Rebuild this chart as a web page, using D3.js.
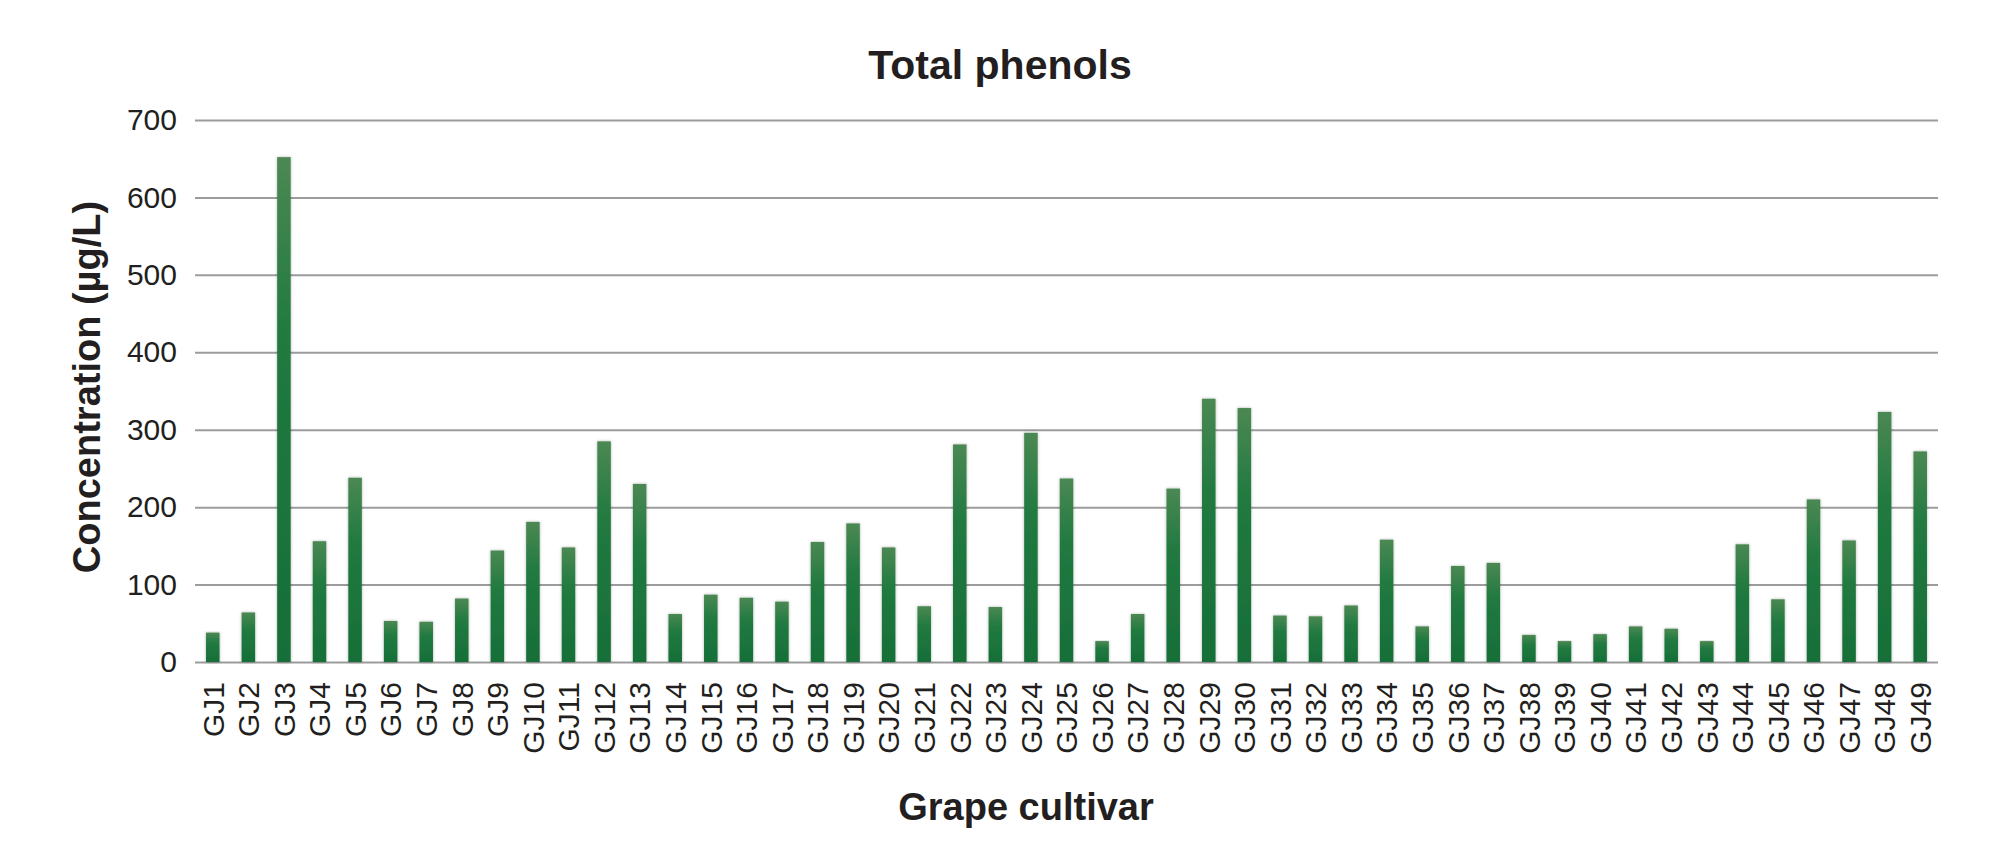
<!DOCTYPE html>
<html lang="en">
<head>
  <meta charset="UTF-8">
  <title>Total phenols</title>
  <style>
    body { margin: 0; padding: 0; background: #fff; }
    svg { display: block; }
    text { font-family: "Liberation Sans", Arial, sans-serif; fill: #231f20; }
    .grid line { stroke: #9c9c9c; stroke-width: 2; }
    .tick text { font-size: 30px; }
  </style>
</head>
<body>
  <svg id="chart" width="2000" height="868"></svg>

  <script src="https://d3js.org/d3.v7.min.js"></script>
  <script>
  (function(){
    const cultivars = ["GJ1","GJ2","GJ3","GJ4","GJ5","GJ6","GJ7","GJ8","GJ9","GJ10",
                       "GJ11","GJ12","GJ13","GJ14","GJ15","GJ16","GJ17","GJ18","GJ19","GJ20",
                       "GJ21","GJ22","GJ23","GJ24","GJ25","GJ26","GJ27","GJ28","GJ29","GJ30",
                       "GJ31","GJ32","GJ33","GJ34","GJ35","GJ36","GJ37","GJ38","GJ39","GJ40",
                       "GJ41","GJ42","GJ43","GJ44","GJ45","GJ46","GJ47","GJ48","GJ49"];

    // total phenols, µg/L
    const phenols = [38, 64, 652, 156, 238, 53, 52, 82, 144, 181,
                     148, 285, 230, 62, 87, 83, 78, 155, 179, 148,
                     72, 281, 71, 296, 237, 27, 62, 224, 340, 328,
                     60, 59, 73, 158, 46, 124, 128, 35, 27, 36,
                     46, 43, 27, 152, 81, 210, 157, 323, 272];

    const yTicks = [0, 100, 200, 300, 400, 500, 600, 700];

    const svg = d3.select("#chart"),
          left = 195, right = 1938, top = 120, bottom = 662;

    const data = cultivars.map((c, i) => ({ name: c, value: phenols[i] }));

    const x = d3.scaleBand()
      .domain(cultivars)
      .range([left, right])
      .paddingInner(0.62)
      .paddingOuter(0.31);

    const y = d3.scaleLinear()
      .domain([0, 700])
      .range([bottom, top]);

    // gradient + soft shadow for the bars
    const defs = svg.append("defs");
    const grad = defs.append("linearGradient")
      .attr("id", "barGrad")
      .attr("x1", 0).attr("y1", 0).attr("x2", 0).attr("y2", 1);
    grad.append("stop").attr("offset", "0%").attr("stop-color", "#4b8853");
    grad.append("stop").attr("offset", "35%").attr("stop-color", "#217a40");
    grad.append("stop").attr("offset", "100%").attr("stop-color", "#166e38");

    defs.append("filter")
      .attr("id", "shadow")
      .attr("x", "-50%").attr("y", "-5%").attr("width", "200%").attr("height", "110%")
      .append("feDropShadow")
        .attr("dx", 0).attr("dy", 0)
        .attr("stdDeviation", 1.8)
        .attr("flood-color", "#000")
        .attr("flood-opacity", 0.3);

    // gridlines + y tick labels
    svg.append("g")
      .attr("class", "grid")
      .attr("transform", `translate(${left},0)`)
      .call(d3.axisLeft(y).tickValues(yTicks).tickSize(-(right - left)).tickPadding(18))
      .call(g => g.select(".domain").remove());

    // bars
    svg.append("g")
      .selectAll("rect")
      .data(data)
      .join("rect")
        .attr("x", d => x(d.name))
        .attr("y", d => y(d.value))
        .attr("width", x.bandwidth())
        .attr("height", d => y(0) - y(d.value))
        .attr("fill", "url(#barGrad)")
        .attr("filter", "url(#shadow)");

    // x labels, rotated
    svg.append("g")
      .attr("transform", `translate(0,${bottom})`)
      .call(d3.axisBottom(x).tickSize(0))
      .call(g => g.select(".domain").remove())
      .selectAll("text")
        .attr("transform", "rotate(-90)")
        .attr("text-anchor", "end")
        .attr("x", -20)
        .attr("y", 0)
        .attr("dy", "0.36em");

    // titles
    svg.append("text")
      .attr("x", 1000).attr("y", 79)
      .attr("text-anchor", "middle")
      .style("font-size", "41px").style("font-weight", "bold")
      .text("Total phenols");

    svg.append("text")
      .attr("transform", "translate(100,387) rotate(-90)")
      .attr("text-anchor", "middle")
      .style("font-size", "38px").style("font-weight", "bold")
      .text("Concentration (µg/L)");

    svg.append("text")
      .attr("x", 1026).attr("y", 820)
      .attr("text-anchor", "middle")
      .style("font-size", "38px").style("font-weight", "bold")
      .text("Grape cultivar");
  })();
  </script>
</body>
</html>
